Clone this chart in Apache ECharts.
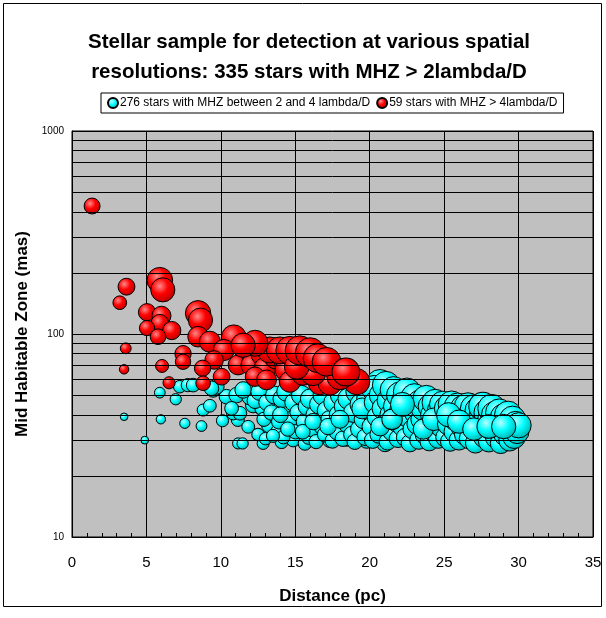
<!DOCTYPE html>
<html>
<head>
<meta charset="utf-8">
<script src="https://cdn.jsdelivr.net/npm/echarts@6/dist/echarts.min.js"></script>
<style>
  html, body { margin: 0; padding: 0; background: #ffffff; }
  #chart { width: 606px; height: 618px; }
</style>
</head>
<body>
<div id="chart"></div>
<script>
// Chart text
const titleLines = ['Stellar sample for detection at various spatial', 'resolutions: 335 stars with MHZ > 2lambda/D'];
const seriesNames = ['276 stars with MHZ between 2 and 4 lambda/D', '59 stars with MHZ > 4lambda/D'];
const xAxisTitle = 'Distance (pc)';
const yAxisTitle = 'Mid Habitable Zone (mas)';

// Log-axis minor gridlines (mas)
const minorGridValues = [20, 30, 40, 50, 60, 70, 80, 90, 200, 300, 400, 500, 600, 700, 800, 900];

// Stars with MHZ between 2 and 4 lambda/D: [distance (pc), MHZ (mas)]
const cyanStars = [
  [3.50, 39.1], [4.89, 30.0], [5.97, 38.0], [5.90, 51.4], [6.97, 47.7], [7.58, 36.3],
  [7.24, 55.0], [7.78, 56.0], [8.70, 35.2], [8.81, 42.2], [9.26, 44.3], [10.11, 37.4],
  [10.38, 49.1], [8.14, 56.0], [9.48, 53.0], [11.16, 28.9], [11.14, 37.7], [10.81, 42.2],
  [9.71, 55.0], [11.06, 50.0], [10.83, 40.7], [11.28, 40.7], [11.84, 34.9], [11.46, 28.9],
  [12.84, 28.9], [13.21, 35.3], [14.08, 29.3], [12.17, 44.6], [12.80, 43.1], [11.95, 49.0],
  [13.97, 43.9], [14.53, 40.7], [14.75, 34.9], [14.86, 30.0], [10.72, 43.0], [9.37, 54.0],
  [11.50, 53.0], [15.53, 45.5], [14.42, 43.9], [15.65, 28.9], [16.20, 31.0], [17.33, 30.0],
  [18.45, 30.6], [19.80, 30.0], [21.03, 28.9], [20.69, 57.2], [21.14, 51.0], [17.55, 47.0],
  [19.13, 42.0], [16.66, 39.0], [18.00, 36.0], [15.31, 36.0], [19.35, 37.7], [20.91, 39.0],
  [21.82, 47.0],
  [12.3, 47], [12.6, 52], [12.9, 38], [13.1, 46], [13.4, 41], [13.6, 50], [13.8, 33],
  [13.9, 37], [14.1, 48], [14.2, 31], [14.4, 52], [14.7, 38], [14.9, 46], [15.0, 33],
  [15.2, 41], [12.5, 32], [13.0, 30.5], [13.5, 31.5], [14.5, 34], [14.0, 40],
  [15.4, 50], [15.6, 37], [15.8, 44], [15.9, 31], [16.0, 48], [16.1, 34], [16.3, 40],
  [16.4, 29.5], [16.6, 45], [16.8, 35], [16.9, 50], [17.0, 32], [17.1, 42], [17.3, 38],
  [17.5, 29.8], [17.6, 46], [17.8, 33], [17.9, 40], [18.1, 50], [18.2, 30.5], [18.3, 44],
  [18.5, 36], [18.6, 48], [18.8, 32], [18.9, 41], [19.0, 29.5], [19.2, 52], [19.3, 34],
  [19.4, 45], [19.6, 38], [19.7, 31], [19.9, 48], [20.0, 42], [20.1, 35], [20.2, 30],
  [15.5, 33], [16.2, 37], [17.2, 35], [18.0, 38], [19.5, 43],
  [20.3, 54], [20.4, 46], [20.5, 39], [20.6, 32], [20.8, 50], [20.9, 43], [21.0, 36],
  [21.1, 56], [21.2, 29.5], [21.3, 47], [21.4, 40], [21.5, 33], [21.6, 53], [21.7, 44],
  [21.8, 37], [21.9, 30.5], [22.0, 50], [22.1, 42], [22.2, 35], [22.3, 47], [22.4, 31],
  [22.5, 52], [22.6, 39], [22.7, 29], [22.8, 45], [22.9, 34], [23.0, 49], [23.1, 41],
  [23.2, 36], [23.3, 30], [23.4, 46], [23.5, 38], [23.6, 43], [23.7, 32], [23.8, 48],
  [23.9, 35], [24.0, 29.5], [24.1, 44], [24.2, 40], [24.3, 33], [24.4, 46], [24.5, 37],
  [24.6, 30.5], [24.7, 42], [24.8, 35], [24.9, 45], [25.0, 39], [20.7, 35], [21.5, 38],
  [22.2, 45], [23.6, 34], [24.3, 38],
  [25.1, 31], [25.2, 43], [25.3, 36], [25.4, 29.5], [25.5, 45], [25.6, 40], [25.7, 33],
  [25.8, 38], [25.9, 44], [26.0, 30], [26.1, 41], [26.2, 35], [26.3, 43], [26.4, 32],
  [26.5, 38], [26.6, 44], [26.7, 30.5], [26.8, 40], [26.9, 35], [27.0, 43], [27.1, 29],
  [27.2, 37], [27.3, 42], [27.4, 33], [27.5, 39], [27.6, 44], [27.7, 31], [27.8, 36],
  [27.9, 41], [28.0, 29.5], [28.1, 38], [28.2, 43], [28.3, 34], [28.4, 40], [28.5, 31],
  [28.6, 37], [28.7, 41], [28.8, 29], [28.9, 35], [29.0, 39], [29.1, 32], [29.2, 37],
  [29.3, 40], [29.4, 30], [29.5, 34], [29.6, 38], [29.7, 31], [29.8, 36], [29.9, 33],
  [30.0, 35.5], [25.3, 40], [26.0, 37], [27.0, 34], [28.0, 35], [29.0, 35]
];

// Stars with MHZ above 4 lambda/D: [distance (pc), MHZ (mas)]
const redStars = [
  [1.35, 427], [3.66, 171], [3.21, 142.6], [5.90, 184], [6.10, 165], [5.04, 128],
  [6.01, 123], [5.90, 113], [5.04, 107], [6.70, 104], [5.78, 97], [3.61, 85],
  [3.50, 67], [6.05, 69.6], [7.46, 80], [7.46, 73], [6.52, 57.5], [8.47, 126.5],
  [8.63, 117], [8.47, 97], [9.26, 91.6], [10.87, 96.3], [10.20, 83.4], [9.55, 74.5],
  [8.77, 67.8], [11.16, 70.4], [10.05, 61.6], [8.81, 57.2], [12.02, 83.4], [12.06, 70.4],
  [12.84, 80], [12.96, 67.8], [12.29, 61.6], [13.07, 59.4], [13.75, 77.3], [14.42, 73],
  [14.64, 59.4], [14.42, 66.5], [13.30, 83.4], [13.97, 83], [14.64, 83], [15.76, 75.9],
  [16.66, 71.7], [17.55, 66.5], [14.64, 58.2], [16.66, 57.2], [17.33, 57.2], [19.13, 58.2],
  [15.53, 64], [16.20, 64], [18.00, 61.6], [15.10, 69], [12.3, 90], [15.3, 83],
  [16.0, 81], [16.5, 76], [17.1, 73], [18.4, 65], [11.5, 88]
];

// Bubble diameter follows the habitable-zone radius in AU (MHZ in arcsec times distance)
function bubbleSize(v) {
  return 5 + 19 * v[0] * v[1] / 1000;
}

function ball(light, mid, dark) {
  return {
    type: 'radial', x: 0.38, y: 0.35, r: 0.72,
    colorStops: [
      { offset: 0, color: light },
      { offset: 0.45, color: mid },
      { offset: 1, color: dark }
    ]
  };
}

const FONT = 'Liberation Sans, Arial, sans-serif';
const chart = echarts.init(document.getElementById('chart'), null, { renderer: 'canvas' });

chart.setOption({
  backgroundColor: '#ffffff',
  animation: false,
  title: {
    text: titleLines.join('\n'),
    left: 309, top: 27, textAlign: 'center', padding: 0,
    textStyle: { fontFamily: FONT, fontSize: 20.5, fontWeight: 'bold', color: '#000', lineHeight: 30 }
  },
  legend: {
    data: seriesNames,
    left: 101, top: 93,
    padding: [4, 6, 4, 6],
    itemGap: 6, itemWidth: 10, itemHeight: 10,
    borderColor: '#000', borderWidth: 1, backgroundColor: '#fff',
    textStyle: { fontFamily: FONT, fontSize: 12, color: '#000', padding: [0, 0, 0, -3] },
    icon: 'circle'
  },
  graphic: [{
    type: 'rect', z: -1, silent: true,
    shape: { x: 3.5, y: 3.5, width: 598, height: 603 },
    style: { fill: 'none', stroke: '#000', lineWidth: 1 }
  }],
  grid: {
    left: 72, top: 131, width: 521, height: 406,
    show: true, backgroundColor: '#c0c0c0', borderColor: '#000', borderWidth: 1
  },
  xAxis: {
    type: 'value', min: 0, max: 35, interval: 5,
    name: xAxisTitle, nameLocation: 'middle', nameGap: 51,
    nameTextStyle: { fontFamily: FONT, fontSize: 17, fontWeight: 'bold', color: '#000' },
    axisLine: { show: true, lineStyle: { color: '#000', width: 1 } },
    axisTick: { show: true, inside: true, length: 5, lineStyle: { color: '#000' } },
    minorTick: { show: true, splitNumber: 5, length: 4, lineStyle: { color: '#000' } },
    axisLabel: { fontFamily: FONT, fontSize: 15, color: '#000', margin: 18 },
    splitLine: { show: true, lineStyle: { color: '#000', width: 1 } }
  },
  yAxis: {
    type: 'log', logBase: 10, min: 10, max: 1000,
    name: yAxisTitle, nameLocation: 'middle', nameGap: 31, nameRotate: 90,
    nameTextStyle: { fontFamily: FONT, fontSize: 17, fontWeight: 'bold', color: '#000' },
    axisLine: { show: true, lineStyle: { color: '#000', width: 1 } },
    axisTick: { show: false },
    axisLabel: { fontFamily: FONT, fontSize: 10, color: '#000', margin: 8, formatter: v => String(v) },
    splitLine: { show: true, lineStyle: { color: '#000', width: 1 } }
  },
  series: [
    {
      // carries the minor log gridlines beneath the bubbles
      type: 'line', data: [], z: 1, silent: true, legendHoverLink: false,
      markLine: {
        silent: true, symbol: 'none', animation: false,
        label: { show: false },
        lineStyle: { color: '#000', type: 'solid', width: 1 },
        data: minorGridValues.map(v => ({ yAxis: v }))
      }
    },
    {
      name: seriesNames[0], type: 'scatter', z: 2,
      data: cyanStars, symbolSize: bubbleSize,
      itemStyle: { color: ball('#b8ffff', '#00ffff', '#00a8a8'), borderColor: '#000', borderWidth: 1, opacity: 1 }
    },
    {
      name: seriesNames[1], type: 'scatter', z: 3,
      data: redStars, symbolSize: bubbleSize,
      itemStyle: { color: ball('#ff8a8a', '#ff0000', '#b00000'), borderColor: '#000', borderWidth: 1, opacity: 1 }
    }
  ]
});
</script>
</body>
</html>
